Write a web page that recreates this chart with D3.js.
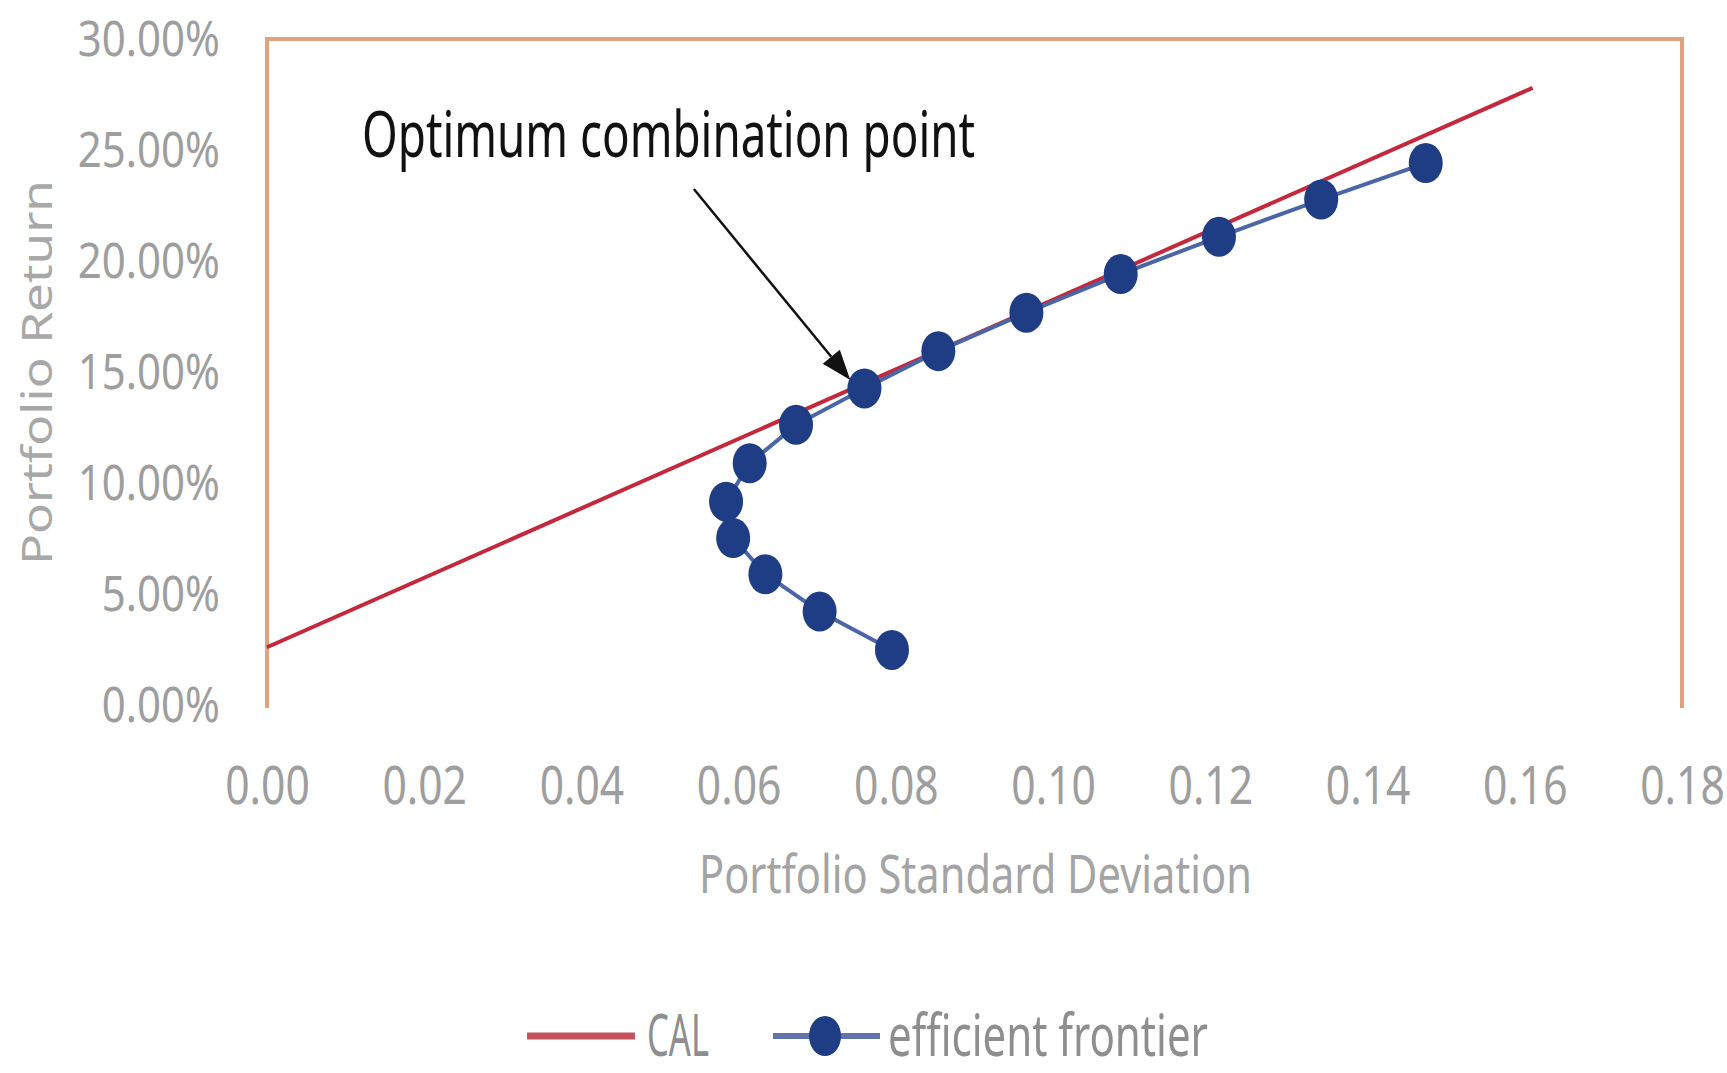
<!doctype html>
<html>
<head>
<meta charset="utf-8">
<title>CAL and efficient frontier</title>
<script src="https://d3js.org/d3.v7.min.js"></script>
<style>
  body { margin: 0; background: #fff; }
  text { font-family: 'Noto Sans', sans-serif; }
</style>
</head>
<body>
<svg id="chart" width="1727" height="1073"></svg>
<script>
  // efficient frontier (std dev, return)
  const frontierSd  = [0.0795, 0.0703, 0.0634, 0.0593, 0.0584, 0.0614, 0.0673, 0.0760, 0.0854, 0.0966, 0.1086, 0.1211, 0.1341, 0.1474];
  const frontierRet = [0.0248, 0.0421, 0.0589, 0.0752, 0.0916, 0.1089, 0.1262, 0.1426, 0.1594, 0.1767, 0.1941, 0.2109, 0.2277, 0.2441];
  // capital allocation line
  const calSd  = [0, 0.161];
  const calRet = [0.026, 0.278];
  const xTicks = [0, 0.02, 0.04, 0.06, 0.08, 0.10, 0.12, 0.14, 0.16, 0.18];
  const yTicks = [0, 0.05, 0.10, 0.15, 0.20, 0.25, 0.30];
  const seriesNames = ["CAL", "efficient frontier"];
  // arrow from label to optimum point, in data units
  const arrowFrom = [0.0543, 0.2324];
  const arrowTo   = [0.0742, 0.1464];

  const svg = d3.select("#chart");
  const x = d3.scaleLinear().domain([0, 0.18]).range([267, 1682]);
  const y = d3.scaleLinear().domain([0, 0.30]).range([705, 39]);

  const frontier = frontierSd.map((d, i) => ({sd: d, ret: frontierRet[i]}));
  const cal = calSd.map((d, i) => ({sd: d, ret: calRet[i]}));

  // plot area border (top, left, right)
  svg.append("path")
    .attr("d", `M${x(0)},${y(0) + 3}V${y(0.30)}H${x(0.18)}V${y(0) + 3}`)
    .attr("fill", "none")
    .attr("stroke", "#dfa27c")
    .attr("stroke-width", 4);

  // y axis
  const gy = svg.append("g").attr("transform", `translate(${x(0)},0)`)
    .call(d3.axisLeft(y).tickValues(yTicks).tickFormat(d3.format(".2%")).tickSize(0));
  gy.select(".domain").remove();
  gy.selectAll("text")
    .attr("x", 0)
    .attr("text-anchor", "end")
    .attr("font-size", 50)
    .attr("fill", "#9e9e9e")
    .attr("transform", "translate(-47,0) scale(0.84,1)");

  // x axis
  const gx = svg.append("g").attr("transform", `translate(0,${y(0)})`)
    .call(d3.axisBottom(x).tickValues(xTicks).tickFormat(d3.format(".2f")).tickSize(0));
  gx.select(".domain").remove();
  gx.selectAll("text")
    .attr("y", 0).attr("dy", 0)
    .attr("font-size", 52)
    .attr("fill", "#9e9e9e")
    .attr("transform", "translate(0,99) scale(0.82,1)");

  // axis titles
  svg.append("text")
    .attr("x", 699).attr("y", 893)
    .attr("font-size", 53)
    .attr("fill", "#a4a4a4")
    .attr("textLength", 553).attr("lengthAdjust", "spacingAndGlyphs")
    .text("Portfolio Standard Deviation");

  svg.append("text")
    .attr("transform", "translate(52,565) rotate(-90)")
    .attr("font-size", 42)
    .attr("fill", "#a8a8a8")
    .attr("textLength", 385).attr("lengthAdjust", "spacingAndGlyphs")
    .text("Portfolio Return");

  // CAL line
  const line = d3.line().x(d => x(d.sd)).y(d => y(d.ret));
  svg.append("path").datum(cal)
    .attr("d", line)
    .attr("fill", "none")
    .attr("stroke", "#c3283c")
    .attr("stroke-width", 4);

  // efficient frontier
  svg.append("path").datum(frontier)
    .attr("d", line)
    .attr("fill", "none")
    .attr("stroke", "#4a66a6")
    .attr("stroke-width", 4);

  svg.selectAll(".pt").data(frontier).enter().append("ellipse")
    .attr("class", "pt")
    .attr("cx", d => x(d.sd))
    .attr("cy", d => y(d.ret))
    .attr("rx", 17).attr("ry", 20)
    .attr("fill", "#1f3d84");

  // annotation
  svg.append("text")
    .attr("x", 362).attr("y", 157)
    .attr("font-size", 63)
    .attr("fill", "#111")
    .attr("textLength", 613).attr("lengthAdjust", "spacingAndGlyphs")
    .text("Optimum combination point");

  const ax0 = x(arrowFrom[0]), ay0 = y(arrowFrom[1]);
  const ax1 = x(arrowTo[0]), ay1 = y(arrowTo[1]);
  const ang = Math.atan2(ay1 - ay0, ax1 - ax0);
  const headLen = 30, headW = 11;
  const bx = ax1 - headLen * Math.cos(ang), by = ay1 - headLen * Math.sin(ang);
  svg.append("line")
    .attr("x1", ax0).attr("y1", ay0).attr("x2", bx).attr("y2", by)
    .attr("stroke", "#111").attr("stroke-width", 2.5);
  svg.append("path")
    .attr("d", `M${ax1},${ay1}L${bx + headW * Math.sin(ang)},${by - headW * Math.cos(ang)}L${bx - headW * Math.sin(ang)},${by + headW * Math.cos(ang)}Z`)
    .attr("fill", "#111");

  // legend (kept just inside the bottom edge)
  const lg = svg.append("g");
  lg.append("line").attr("x1", 527).attr("x2", 635).attr("y1", 1036).attr("y2", 1036)
    .attr("stroke", "#c4545f").attr("stroke-width", 7);
  lg.append("text").attr("x", 647).attr("y", 1056)
    .attr("font-size", 58).attr("fill", "#8e8e8e")
    .attr("textLength", 62).attr("lengthAdjust", "spacingAndGlyphs")
    .text(seriesNames[0]);
  lg.append("line").attr("x1", 773).attr("x2", 880).attr("y1", 1036).attr("y2", 1036)
    .attr("stroke", "#5f74aa").attr("stroke-width", 6);
  lg.append("ellipse").attr("cx", 825).attr("cy", 1036).attr("rx", 16).attr("ry", 20)
    .attr("fill", "#1f3d84");
  lg.append("text").attr("x", 888).attr("y", 1056)
    .attr("font-size", 58).attr("fill", "#8e8e8e")
    .attr("textLength", 320).attr("lengthAdjust", "spacingAndGlyphs")
    .text(seriesNames[1]);
</script>
</body>
</html>
